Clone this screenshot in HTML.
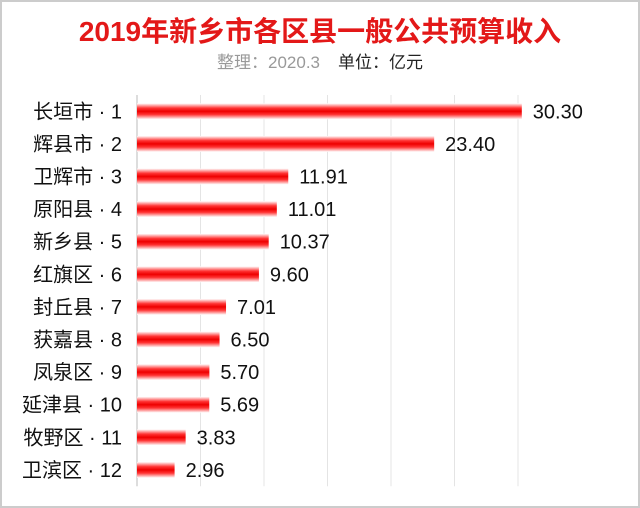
<!DOCTYPE html>
<html><head><meta charset="utf-8"><style>
body{margin:0;background:#fff}
#c{position:relative;width:640px;height:508px;overflow:hidden;font-family:"Liberation Sans","Noto Sans CJK SC",sans-serif}
</style></head><body>
<div id="c">
<svg id="s" width="640" height="508" xmlns="http://www.w3.org/2000/svg">
<defs><linearGradient id="g" x1="0" y1="0" x2="0" y2="1">
<stop offset="0" stop-color="#fff"/><stop offset="0.3" stop-color="#f33"/><stop offset="0.5" stop-color="#e00"/><stop offset="0.7" stop-color="#f33"/><stop offset="1" stop-color="#fff"/></linearGradient></defs>
<rect x="1" y="1" width="638" height="506" fill="none" stroke="#ccc" stroke-width="2"/>
<text x="320" y="41" text-anchor="middle" font-size="28" font-weight="bold" fill="#e31818">2019年新乡市各区县一般公共预算收入</text>
<text x="320" y="68" text-anchor="middle" font-size="17"><tspan fill="#999">整理：2020.3</tspan><tspan fill="#222" dx="18">单位：亿元</tspan></text>
<g id="grid"></g><g id="bars"></g>
</svg>
</div>
<script>
const categories=["长垣市 · 1","辉县市 · 2","卫辉市 · 3","原阳县 · 4","新乡县 · 5","红旗区 · 6","封丘县 · 7","获嘉县 · 8","凤泉区 · 9","延津县 · 10","牧野区 · 11","卫滨区 · 12"];
const values=[30.30,23.40,11.91,11.01,10.37,9.60,7.01,6.50,5.70,5.69,3.83,2.96];
const labels=["30.30","23.40","11.91","11.01","10.37","9.60","7.01","6.50","5.70","5.69","3.83","2.96"];
const gridTicks=[0,5,10,15,20,25,30];
const NS="http://www.w3.org/2000/svg";
const x0=137,pxPer=12.7,top0=95,rowH=32.6;
const xs=v=>x0+v*pxPer;
const yc=i=>top0+rowH*(i+0.5);
const grid=document.getElementById('grid'),bars=document.getElementById('bars');
function mk(t,a,p){const e=document.createElementNS(NS,t);for(const k in a)e.setAttribute(k,a[k]);p.appendChild(e);return e;}
gridTicks.forEach(t=>{
 const l=mk('line',{x1:xs(t),x2:xs(t),y1:top0,y2:top0+rowH*12,stroke:t===0?'#bbb':'#e4e4e4','stroke-width':1},grid);
 
 
});
categories.forEach((c,i)=>{
 const y=yc(i);
 const lab=mk('text',{x:122,y:y+7,'text-anchor':'end','font-size':20,fill:'#111'},bars);lab.textContent=c;
 
 
 const r=mk('rect',{x:x0,y:y-8,width:values[i]*pxPer,height:16,fill:'url(#g)'},bars);
 
 
 const v=mk('text',{x:xs(values[i])+11,y:y+7,'font-size':20,fill:'#111'},bars);v.textContent=labels[i];
 
 
});
</script>
</body></html>
